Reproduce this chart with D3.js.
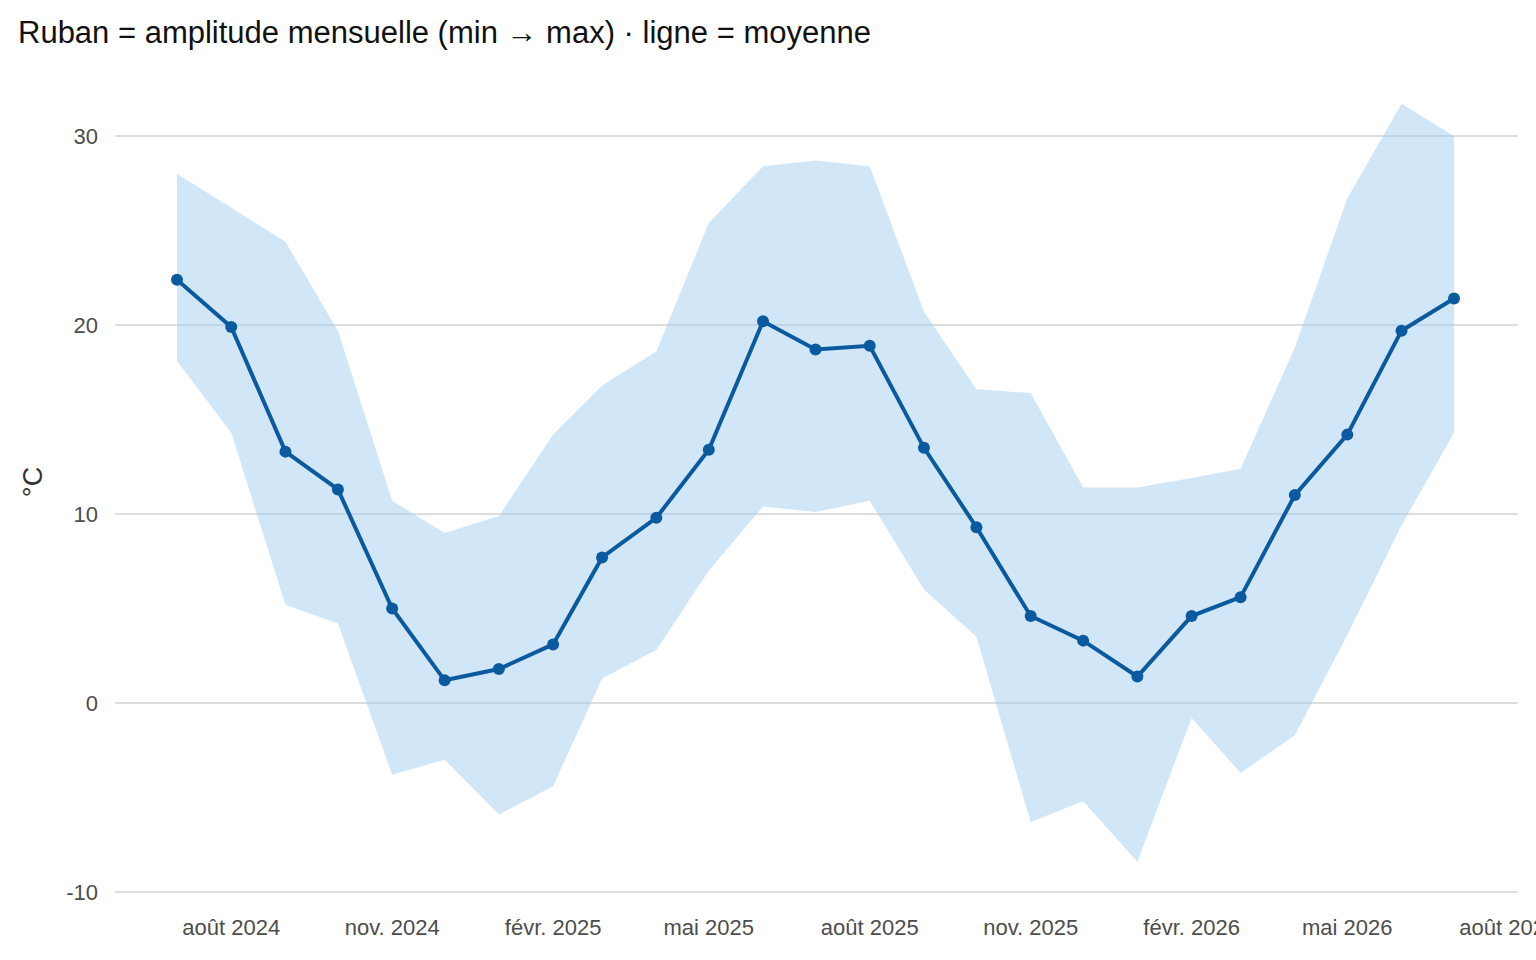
<!DOCTYPE html>
<html><head><meta charset="utf-8">
<script src="https://cdn.jsdelivr.net/npm/d3@7"></script>
<style>body{margin:0;background:#fff}</style></head>
<body><svg id="c" width="1536" height="960"></svg>
<script>
const months = ["2024-07","2024-08","2024-09","2024-10","2024-11","2024-12","2025-01","2025-02","2025-03","2025-04","2025-05","2025-06","2025-07","2025-08","2025-09","2025-10","2025-11","2025-12","2026-01","2026-02","2026-03","2026-04","2026-05","2026-06","2026-07"];
const meanT = [22.4,19.9,13.3,11.3,5.0,1.2,1.8,3.1,7.7,9.8,13.4,20.2,18.7,18.9,13.5,9.3,4.6,3.3,1.4,4.6,5.6,11.0,14.2,19.7,21.4];
const maxT = [28.0,26.2,24.4,19.7,10.7,9.0,9.9,14.2,16.8,18.6,25.4,28.4,28.7,28.4,20.7,16.6,16.4,11.4,11.4,11.9,12.4,18.8,26.7,31.7,30.0];
const minT = [18.1,14.3,5.2,4.2,-3.8,-3.0,-5.9,-4.4,1.3,2.8,7.0,10.4,10.1,10.7,6.0,3.5,-6.3,-5.2,-8.4,-0.8,-3.7,-1.7,3.6,9.4,14.3];
const yTicks = [-10,0,10,20,30];
const xTicks = ["2024-08","2024-11","2025-02","2025-05","2025-08","2025-11","2026-02","2026-05","2026-08"];
const fr = ["janv.","févr.","mars","avr.","mai","juin","juil.","août","sept.","oct.","nov.","déc."];

const parse = d3.timeParse("%Y-%m");
const data = months.map((m,i)=>({d:parse(m),mean:meanT[i],max:maxT[i],min:minT[i]}));
const svg = d3.select("#c");
const x = d3.scaleTime().domain([parse("2024-07"),parse("2026-07")]).range([177,1454]);
const y = d3.scaleLinear().domain([-10,30]).range([892,136]);
const font = "Liberation Sans, Arial, sans-serif";

svg.append("g").selectAll("line").data(yTicks).join("line")
  .attr("x1",115).attr("x2",1518).attr("y1",d=>y(d)).attr("y2",d=>y(d))
  .attr("stroke","#dedede").attr("stroke-width",2.2);
svg.append("g").selectAll("text").data(yTicks).join("text")
  .attr("x",98).attr("y",d=>y(d)).attr("dy","0.35em").attr("text-anchor","end")
  .attr("font-family",font).attr("font-size",22).attr("fill","#4d4d4d").text(d=>d);
svg.append("g").selectAll("text").data(xTicks).join("text")
  .attr("x",d=>x(parse(d))).attr("y",935).attr("text-anchor","middle")
  .attr("font-family",font).attr("font-size",22).attr("fill","#4d4d4d")
  .text(d=>{const t=parse(d);return fr[t.getMonth()]+" "+t.getFullYear();});

svg.append("path").datum(data)
  .attr("d",d3.area().x(d=>x(d.d)).y0(d=>y(d.min)).y1(d=>y(d.max)))
  .attr("fill","#9fcdf0").attr("opacity",0.48);
svg.append("path").datum(data)
  .attr("d",d3.line().x(d=>x(d.d)).y(d=>y(d.mean)))
  .attr("fill","none").attr("stroke","#0b5aa0").attr("stroke-width",4);
svg.append("g").selectAll("circle").data(data).join("circle")
  .attr("cx",d=>x(d.d)).attr("cy",d=>y(d.mean)).attr("r",6).attr("fill","#0b5aa0");

svg.append("text").attr("transform","translate(42,482) rotate(-90)").attr("text-anchor","middle")
  .attr("font-family",font).attr("font-size",27).attr("fill","#333").text("°C");
svg.append("text").attr("x",18).attr("y",43)
  .attr("font-family",font).attr("font-size",31).attr("fill","#111")
  .text("Ruban = amplitude mensuelle (min → max) · ligne = moyenne");
</script></body></html>
